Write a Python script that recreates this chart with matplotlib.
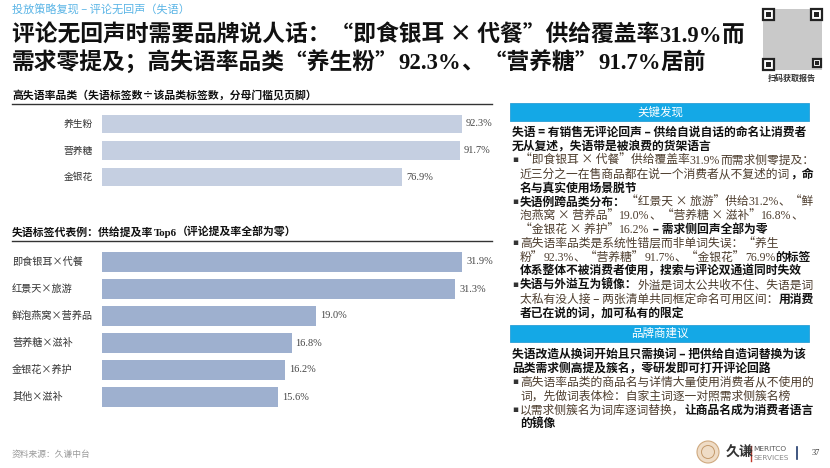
import matplotlib
matplotlib.use("Agg")
import matplotlib.pyplot as plt
import matplotlib.transforms as mtransforms
from matplotlib.patches import Rectangle, Circle
from matplotlib.lines import Line2D

CJK = "Noto Sans CJK SC"
SERIF = "Liberation Serif"
plt.rcParams["font.family"] = [CJK, "DejaVu Sans"]

# ---- data ----
rate_cats = ["养生粉", "营养糖", "金银花"]
rate_vals = [92.3, 91.7, 76.9]

top6_cats = ["即食银耳×代餐", "红景天×旅游", "鲜泡燕窝×营养品", "营养糖×滋补", "金银花×养护", "其他×滋补"]
top6_vals = [31.9, 31.3, 19.0, 16.8, 16.2, 15.6]

title_lines = [
    "评论无回声时需要品牌说人话：“即食银耳 × 代餐”供给覆盖率31.9%而",
    "需求零提及；高失语率品类“养生粉”92.3%、“营养糖”91.7%居前",
]
subtitle = "投放策略复现 – 评论无回声（失语）"
head1 = "高失语率品类（失语标签数÷该品类标签数，分母门槛见页脚）"
head2 = "失语标签代表例：供给提及率Top6（评论提及率全部为零）"
source = "资料来源：久谦中台"

# (bullet?, indent?, runs) ; runs = (text, bold)
findings = [
    (False, False, [("失语 = 有销售无评论回声 – 供给自说自话的命名让消费者", True)]),
    (False, False, [("无从复述，失语带是被浪费的货架语言", True)]),
    (True, True, [("“即食银耳 × 代餐”供给覆盖率31.9%而需求侧零提及：", False)]),
    (False, True, [("近三分之一在售商品都在说一个消费者从不复述的词", False), ("，命", True)]),
    (False, True, [("名与真实使用场景脱节", True)]),
    (True, True, [("失语例跨品类分布：", True), ("“红景天 × 旅游”供给31.2%、“鲜", False)]),
    (False, True, [("泡燕窝 × 营养品”19.0%、“营养糖 × 滋补”16.8%、", False)]),
    (False, True, [("“金银花 × 养护”16.2%", False), (" – 需求侧回声全部为零", True)]),
    (True, True, [("高失语率品类是系统性错层而非单词失误：“养生", False)]),
    (False, True, [("粉”92.3%、“营养糖”91.7%、“金银花”76.9%", False), ("的标签", True)]),
    (False, True, [("体系整体不被消费者使用，搜索与评论双通道同时失效", True)]),
    (True, True, [("失语与外溢互为镜像：", True), ("外溢是词太公共收不住、失语是词", False)]),
    (False, True, [("太私有没人接 – 两张清单共同框定命名可用区间：", False), ("用消费", True)]),
    (False, True, [("者已在说的词，加可私有的限定", True)]),
]
advice = [
    (False, False, [("失语改造从换词开始且只需换词 – 把供给自造词替换为该", True)]),
    (False, False, [("品类需求侧高提及簇名，零研发即可打开评论回路", True)]),
    (True, True, [("高失语率品类的商品名与详情大量使用消费者从不使用的", False)]),
    (False, True, [("词，先做词表体检：自家主词逐一对照需求侧簇名榜", False)]),
    (True, True, [("以需求侧簇名为词库逐词替换，", False), ("让商品名成为消费者语言", True)]),
    (False, True, [("的镜像", True)]),
]

W, H = 830, 468
fig = plt.figure(figsize=(8.3, 4.68), dpi=100)
renderer = fig.canvas.get_renderer()


def fx(x):
    return x / W


def fy(y):
    return 1 - y / H


def is_latin(ch):
    return ch.isascii() and (ch.isalnum() or ch in ".%")


def split_script(s):
    segs = []
    for ch in s:
        k = is_latin(ch)
        if segs and segs[-1][1] == k:
            segs[-1][0] += ch
        else:
            segs.append([ch, k])
    return segs


_cache = {}


def advance(s, fam, size, weight):
    key = (s, fam, size, weight)
    if key not in _cache:
        def w(t):
            tx = fig.text(0, 0, t, family=[fam, CJK], fontsize=size, fontweight=weight)
            bb = tx.get_window_extent(renderer)
            tx.remove()
            return bb.width
        _cache[key] = w("中" + s + "中") - w("中中")
    return _cache[key]


def draw_runs(x, y, runs, size, colors=("#4d3d2e", "#111111")):
    # y is the visual centre of the line in pixels
    base = y + 0.38 * size * 100 / 72
    for text, bold in runs:
        weight = "bold" if bold else "normal"
        for seg, latin in split_script(text):
            fam = SERIF if latin else CJK
            fig.text(fx(x), fy(base), seg, family=[fam, CJK], fontsize=size,
                     fontweight=weight, color=colors[bold], va="baseline", ha="left")
            x += advance(seg, fam, size, weight)
    return x


# ---- header ----
fig.text(fx(12), fy(10), subtitle, fontsize=8, color="#5bb5e6", va="center")
for i, line in enumerate(title_lines):
    draw_runs(12, 33 + 27 * i, [(line, True)], 16.4, colors=("#111111", "#111111"))

# QR placeholder
fig.add_artist(Rectangle((fx(763), fy(70)), 59 / W, 61 / H, transform=fig.transFigure,
                         facecolor="#c9c9c9", edgecolor="none"))
for qx, qy, qs in [(763, 9, 11), (811, 9, 11), (763, 59, 11), (813, 59, 8)]:
    fig.add_artist(Rectangle((fx(qx), fy(qy + qs)), qs / W, qs / H, transform=fig.transFigure,
                             facecolor="white", edgecolor="#222222", lw=1.6))
    fig.add_artist(Rectangle((fx(qx + qs * 0.3), fy(qy + qs * 0.7)), qs * 0.4 / W, qs * 0.4 / H,
                             transform=fig.transFigure, facecolor="#222222", edgecolor="none"))
fig.text(fx(792), fy(78), "扫码获取报告", fontsize=5.8, fontweight="bold", color="#333333",
         ha="center", va="center")

# ---- left headings ----
draw_runs(12, 95, [(head1, True)], 7.8, colors=("#111111", "#111111"))
fig.add_artist(Line2D([fx(12), fx(492)], [fy(104), fy(104)], transform=fig.transFigure,
                      color="#333333", lw=1))
draw_runs(12, 231.5, [(head2, True)], 7.8, colors=("#111111", "#111111"))
fig.add_artist(Line2D([fx(12), fx(492)], [fy(241), fy(241)], transform=fig.transFigure,
                      color="#333333", lw=1))

# ---- chart 1 ----
ax1 = fig.add_axes([fx(102), fy(190.5), 390 / W, 80 / H])
ax1.barh(range(len(rate_vals)), rate_vals, height=0.68, color="#c5cfe1")
ax1.set_xlim(0, 100)
ax1.set_ylim(len(rate_vals) - 0.5, -0.5)
ax1.axis("off")
lab1 = mtransforms.offset_copy(ax1.get_yaxis_transform(), fig=fig, x=-9, y=0, units="dots")
val1 = mtransforms.offset_copy(ax1.transData, fig=fig, x=4, y=0, units="dots")
for i, (c, v) in enumerate(zip(rate_cats, rate_vals)):
    ax1.text(0, i, c, transform=lab1, ha="right", va="center", fontsize=7, color="#333333")
    ax1.text(v, i, f"{v:.1f}%", transform=val1, ha="left", va="center", fontsize=7.5,
             family=SERIF, color="#444444")

# ---- chart 2 ----
ax2 = fig.add_axes([fx(102), fy(410.5), 390 / W, 162 / H])
ax2.barh(range(len(top6_vals)), top6_vals, height=0.73, color="#9eb0cf")
ax2.set_xlim(0, 31.9 * 390 / 360)
ax2.set_ylim(len(top6_vals) - 0.5, -0.5)
ax2.axis("off")
lab2 = mtransforms.blended_transform_factory(fig.transFigure, ax2.transData)
val2 = mtransforms.offset_copy(ax2.transData, fig=fig, x=4, y=0, units="dots")
for i, (c, v) in enumerate(zip(top6_cats, top6_vals)):
    ax2.text(fx(12), i, c, transform=lab2, ha="left", va="center", fontsize=7.3, color="#333333")
    ax2.text(v, i, f"{v:.1f}%", transform=val2, ha="left", va="center", fontsize=7.5,
             family=SERIF, color="#444444")

fig.text(fx(12), fy(454), source, fontsize=6.3, color="#9a9a9a", va="center")

# ---- right panel ----
def header_box(y0, y1, label):
    fig.add_artist(Rectangle((fx(510), fy(y1)), 299 / W, (y1 - y0) / H, transform=fig.transFigure,
                             facecolor="#14a8e6", edgecolor="#2b9fd6", lw=0.6))
    fig.text(fx(660), fy((y0 + y1) / 2), label, fontsize=8.3, color="white",
             ha="center", va="center")


def block(lines, y_start, step=13.9):
    for k, (bullet, indent, runs) in enumerate(lines):
        y = y_start + k * step
        if bullet:
            fig.text(fx(512), fy(y), "▪", family="DejaVu Sans", fontsize=6.5,
                     color="#333333", ha="left", va="center")
        draw_runs(520 if indent else 512, y, runs, 8.5)


header_box(103, 121, "关键发现")
block(findings, 131.5)
header_box(325, 342, "品牌商建议")
block(advice, 353.5)

# ---- logo / page number ----
cx, cy = 708 / 100, (H - 452) / 100
fig.add_artist(Circle((cx, cy), 0.11, transform=fig.dpi_scale_trans,
                      facecolor="#efdcc6", edgecolor="#cfa97f", lw=0.8))
fig.add_artist(Circle((cx, cy), 0.065, transform=fig.dpi_scale_trans,
                      facecolor="none", edgecolor="#c49a6c", lw=0.7))
fig.text(fx(726), fy(453), "久谦", fontsize=10, fontweight="bold", color="#333333", va="center")
fig.add_artist(Line2D([fx(751), fx(751)], [fy(446), fy(461)], transform=fig.transFigure,
                      color="#c0392b", lw=1))
fig.text(fx(753), fy(449), "MERITCO", fontsize=5.3, color="#555555", va="center", family="DejaVu Sans")
fig.text(fx(753), fy(457.5), "SERVICES", fontsize=5.3, color="#888888", va="center", family="DejaVu Sans")
fig.add_artist(Line2D([fx(797), fx(797)], [fy(447), fy(459)], transform=fig.transFigure,
                      color="#1f3a6b", lw=1.2))
fig.text(fx(812), fy(453), "37", fontsize=6, color="#333333", va="center", family=SERIF)

fig.savefig("out.png", dpi=100, facecolor="white")
